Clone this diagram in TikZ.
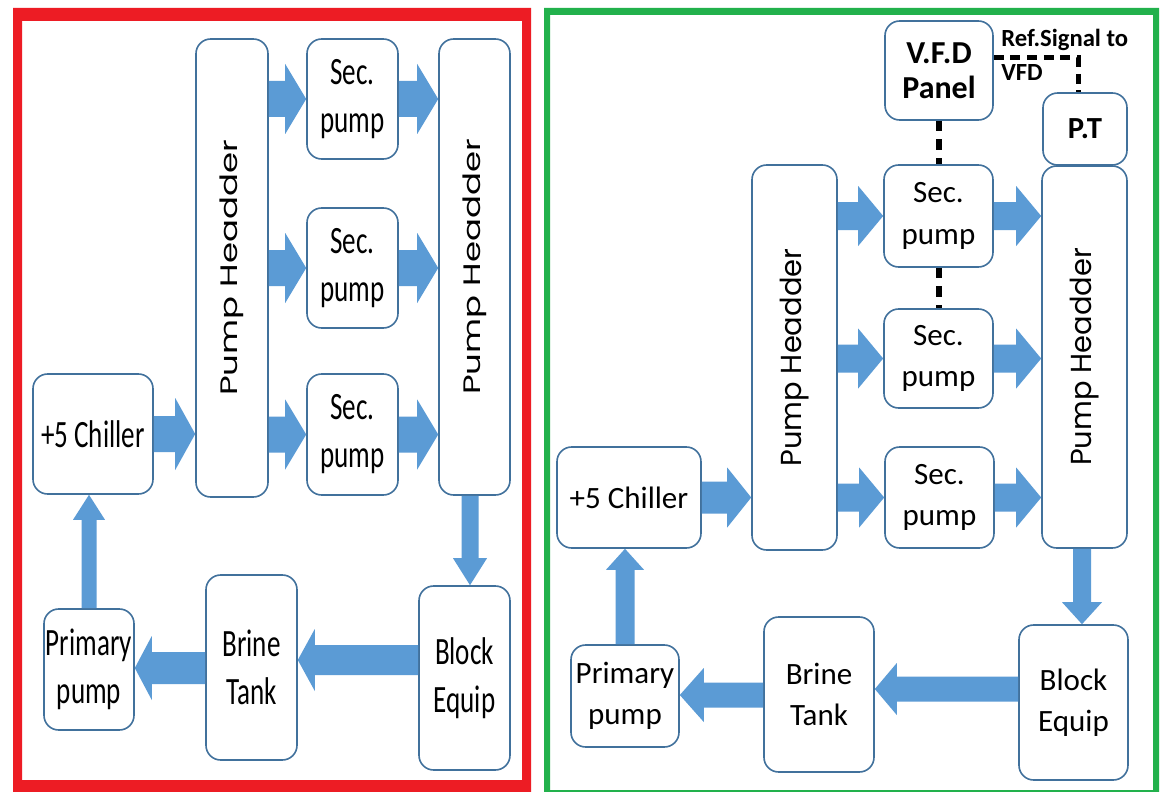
\documentclass[tikz,border=0pt]{standalone}
\usepackage{fontspec}
\usepackage{graphicx}
\setmainfont{Carlito}
\newfontfamily\lfont{Carlito}[FakeStretch=0.7]
\newfontfamily\phfont{Poppins}
\usetikzlibrary{calc}
\definecolor{bxline}{HTML}{41719C}
\definecolor{arrcol}{HTML}{5B9BD5}
\definecolor{redf}{HTML}{ED1C24}
\definecolor{greenf}{HTML}{22B14C}
\tikzset{
 box/.style={draw=bxline, line width=1.2pt, fill=white, rounded corners=11pt, inner sep=0pt, align=center, text=black},
 lbox/.style={box, font=\lfont\fontsize{29}{36}\selectfont},
 rbox/.style={box, font=\fontsize{23.25}{31}\selectfont},
 sigline/.style={line width=3.75pt, black, dash pattern=on 7.5pt off 5pt},
 vsigline/.style={line width=4.5pt, black, dash pattern=on 8pt off 6pt},
}
% box from pixel corners
\newcommand\bx[7]{%
 \pgfmathsetmacro\bw{(#5-#3)*0.75}%
 \pgfmathsetmacro\bh{(#6-#4)*0.75}%
 \node[#1, minimum width=\bw pt, minimum height=\bh pt] (#2) at ({(#3+#5)/2},{(#4+#6)/2}) {#7};}
% block arrow: start, end, shaft half width, head half width, head length (px)
\newcommand\farrow[5]{%
 \fill[arrcol] let \p1=(#1), \p2=(#2),
  \n1={veclen(\x2-\x1,\y2-\y1)},
  \n2={(\x2-\x1)/\n1}, \n3={(\y2-\y1)/\n1},
  \n4={#3*0.75}, \n5={#4*0.75}, \n6={#5*0.75},
  \n7={\x2-\n2*\n6}, \n8={\y2-\n3*\n6}
 in ({(\x1-\n3*\n4)*1pt},{(\y1+\n2*\n4)*1pt})
 -- ({(\n7-\n3*\n4)*1pt},{(\n8+\n2*\n4)*1pt})
 -- ({(\n7-\n3*\n5)*1pt},{(\n8+\n2*\n5)*1pt})
 -- (\p2)
 -- ({(\n7+\n3*\n5)*1pt},{(\n8-\n2*\n5)*1pt})
 -- ({(\n7+\n3*\n4)*1pt},{(\n8-\n2*\n4)*1pt})
 -- ({(\x1+\n3*\n4)*1pt},{(\y1-\n2*\n4)*1pt}) -- cycle;}
\newcommand\phL{\rotatebox{90}{\scalebox{1}[0.7]{\phfont\fontsize{25.5}{30}\selectfont Pump Headder}}}
\newcommand\phR{\rotatebox{90}{\phfont\fontsize{21.7}{26}\selectfont Pump Headder}}
\begin{document}
\begin{tikzpicture}[x=0.75pt,y=-0.75pt]
\useasboundingbox (0,0) rectangle (1165,792);
\fill[white] (0,0) rectangle (1165,792);
% frames
\fill[redf, even odd rule] (13,8) rectangle (531,796) (22,21) rectangle (522,780);
\fill[greenf, even odd rule] (544,8) rectangle (1159,796) (550,15) rectangle (1153,790);
% ---------- left panel ----------
\bx{lbox}{ph1L}{196}{39}{268}{497}{\phL}
\bx{lbox}{s1L}{307}{39}{398}{159}{Sec.\\pump}
\bx{lbox}{s2L}{307}{208}{398}{328}{Sec.\\pump}
\bx{lbox}{s3L}{307}{374}{398}{495}{Sec.\\pump}
\bx{lbox}{ph2L}{439}{39}{510}{495}{\phL}
\bx{lbox}{chL}{33}{374}{153}{494}{+5 Chiller}
\bx{lbox}{ppL}{44}{609}{134}{730}{Primary\\pump}
\bx{lbox}{btL}{206}{575}{297}{760}{Brine\\Tank}
\bx{lbox}{blL}{419}{586}{510}{770}{Block\\Equip}
\coordinate (xa) at (470,0);
\coordinate (ya) at (0,660);
\coordinate (yb) at (0,668);
\farrow{chL.east}{chL.east -| ph1L.west}{18}{36}{20}
\farrow{ph1L.east |- s1L}{s1L.west}{18}{35}{21}
\farrow{ph1L.east |- s2L}{s2L.west}{18}{35}{21}
\farrow{ph1L.east |- s3L}{s3L.west}{18}{35}{21}
\farrow{s1L.east}{s1L.east -| ph2L.west}{18}{35}{21}
\farrow{s2L.east}{s2L.east -| ph2L.west}{18}{35}{21}
\farrow{s3L.east}{s3L.east -| ph2L.west}{18}{35}{21}
\farrow{ph2L.south -| xa}{blL.north -| xa}{8.5}{17}{27}
\farrow{blL.west |- ya}{btL.east |- ya}{15}{31}{17}
\farrow{btL.west |- yb}{ppL.east |- yb}{16}{32}{17}
\farrow{ppL.north}{ppL.north |- chL.south}{7.5}{16}{25}
% ---------- right panel ----------
\bx{rbox, font=\bfseries\fontsize{24}{26}\selectfont}{vfd}{885}{21}{993}{120}{V.F.D\\Panel}
\bx{rbox, font=\bfseries\fontsize{23}{26}\selectfont}{pt}{1043}{93}{1127}{165}{P.T}
\bx{rbox}{ph1R}{752}{165}{837}{550}{\phR}
\bx{rbox}{s1R}{884}{165}{993}{267}{Sec.\\pump}
\bx{rbox}{s2R}{884}{309}{993}{408}{Sec.\\pump}
\bx{rbox}{s3R}{885}{447}{994}{548}{Sec.\\pump}
\bx{rbox}{ph2R}{1042}{166}{1127}{548}{\phR}
\bx{rbox}{chR}{557}{447}{701}{548}{+5 Chiller}
\bx{rbox}{ppR}{571}{645}{679}{747}{Primary\\pump}
\bx{rbox}{btR}{764}{617}{874}{772}{Brine\\Tank}
\bx{rbox}{blR}{1019}{625}{1128}{780}{Block\\Equip}
\node[anchor=north west, inner sep=0pt, align=left, font=\bfseries\fontsize{18.5}{25.5}\selectfont] (ref) at (1001,29) {Ref.Signal to\\VFD};
\coordinate (xb) at (1082,0);
\coordinate (yc) at (0,689);
\coordinate (yd) at (0,695);
\coordinate (sy) at (0,58);
\coordinate (sx) at (1078,0);
\farrow{chR.east}{chR.east -| ph1R.west}{16}{30}{24}
\farrow{ph1R.east |- s1R}{s1R.west}{14}{30}{25}
\farrow{ph1R.east |- s2R}{s2R.west}{14}{30}{25}
\farrow{ph1R.east |- s3R}{s3R.west}{14}{30}{25}
\farrow{s1R.east}{s1R.east -| ph2R.west}{14}{30}{25}
\farrow{s2R.east}{s2R.east -| ph2R.west}{14}{30}{25}
\farrow{s3R.east}{s3R.east -| ph2R.west}{14}{30}{25}
\farrow{ph2R.south -| xb}{blR.north -| xb}{9}{20}{22}
\farrow{blR.west |- yc}{btR.east |- yc}{12.5}{26}{22}
\farrow{btR.west |- yd}{ppR.east |- yd}{12.5}{27}{24}
\farrow{ppR.north}{ppR.north |- chR.south}{9.5}{19}{21}
% signal lines
\draw[sigline] (vfd.east |- sy) -| (pt.north -| sx);
\draw[vsigline] (vfd.south) -- (vfd.south |- s1R.north);
\draw[vsigline] (s1R.south) -- (s2R.north);
\end{tikzpicture}
\end{document}
